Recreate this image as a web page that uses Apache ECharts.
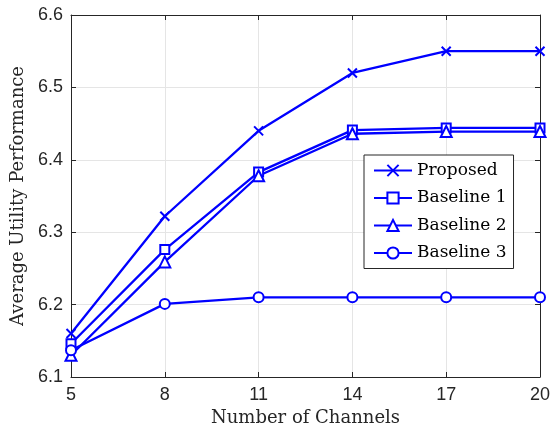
<!DOCTYPE html>
<html><head><meta charset="utf-8">
<script src="https://cdn.jsdelivr.net/npm/echarts@6/dist/echarts.min.js"></script>
<style>html,body{margin:0;padding:0;background:#fff}#c{width:551px;height:429px}</style>
</head><body><div id="c"></div>
<script>
const categories = ['5','8','11','14','17','20'];
const proposed  = [6.160, 6.322, 6.440, 6.520, 6.550, 6.550];
const baseline1 = [6.146, 6.276, 6.383, 6.441, 6.444, 6.444];
const baseline2 = [6.130, 6.259, 6.378, 6.436, 6.439, 6.439];
const baseline3 = [6.137, 6.201, 6.210, 6.210, 6.210, 6.210];
const seriesNames = ['Proposed','Baseline 1','Baseline 2','Baseline 3'];
const yMin = 6.1, yMax = 6.6, yStep = 0.1;

const blue = '#0000ff';
const axisCol = '#262626';
const crossPath = 'path://M0,0L10,10M10,0L0,10';
function mk(name, data, symbol, size){
  return {
    name, type:'line', data, symbol, symbolSize:size,
    lineStyle:{color:blue,width:2.3},
    itemStyle:{color: symbol===crossPath? blue : '#ffffff', borderColor:blue, borderWidth:2},
    emphasis:{disabled:true}, animation:false, z:3
  };
}
const chart = echarts.init(document.getElementById('c'), null, {renderer:'canvas'});
chart.setOption({
  animation:false,
  grid:{left:71,right:11,top:15,bottom:52,containLabel:false,outerBoundsMode:'none'},
  legend:{
    orient:'vertical', left:364, top:155,
    data:seriesNames,
    backgroundColor:'#ffffff', borderColor:axisCol, borderWidth:1,
    padding:[7,7,7,9], itemGap:10.5, itemWidth:38, itemHeight:14,
    textStyle:{fontFamily:'DejaVu Serif', fontSize:17, lineHeight:17, color:'#000'}
  },
  xAxis:[{
    type:'category', data:categories, boundaryGap:false,
    name:'Number of Channels', nameLocation:'middle', nameGap:31,
    nameTextStyle:{fontFamily:'DejaVu Serif', fontSize:18, color:axisCol},
    axisLine:{lineStyle:{color:axisCol,width:1}},
    axisTick:{inside:true,length:5,lineStyle:{color:axisCol}},
    axisLabel:{fontFamily:'Liberation Sans', fontSize:18, color:axisCol, margin:9},
    splitLine:{show:true,lineStyle:{color:'#e5e5e5',width:1}}
  },{
    type:'category', data:categories, boundaryGap:false, position:'top',
    axisLine:{lineStyle:{color:axisCol,width:1}},
    axisTick:{inside:true,length:5,lineStyle:{color:axisCol}},
    axisLabel:{show:false}, splitLine:{show:false}
  }],
  yAxis:[{
    type:'value', min:yMin, max:yMax, interval:yStep,
    name:'Average Utility Performance', nameLocation:'middle', nameGap:41,
    nameTextStyle:{fontFamily:'DejaVu Serif', fontSize:18, color:axisCol},
    axisLine:{show:true,lineStyle:{color:axisCol,width:1}},
    axisTick:{show:true,inside:true,length:5,lineStyle:{color:axisCol}},
    axisLabel:{fontFamily:'Liberation Sans', fontSize:18, color:axisCol, margin:8,
      formatter:v=>v.toFixed(1)},
    splitLine:{show:true,lineStyle:{color:'#e5e5e5',width:1}}
  },{
    type:'value', min:yMin, max:yMax, interval:yStep, position:'right',
    axisLine:{show:true,lineStyle:{color:axisCol,width:1}},
    axisTick:{show:true,inside:true,length:5,lineStyle:{color:axisCol}},
    axisLabel:{show:false}, splitLine:{show:false}
  }],
  series:[
    mk(seriesNames[0], proposed, crossPath, 9),
    mk(seriesNames[1], baseline1, 'rect', 9),
    mk(seriesNames[2], baseline2, 'triangle', 11),
    mk(seriesNames[3], baseline3, 'circle', 10)
  ]
});
</script></body></html>
